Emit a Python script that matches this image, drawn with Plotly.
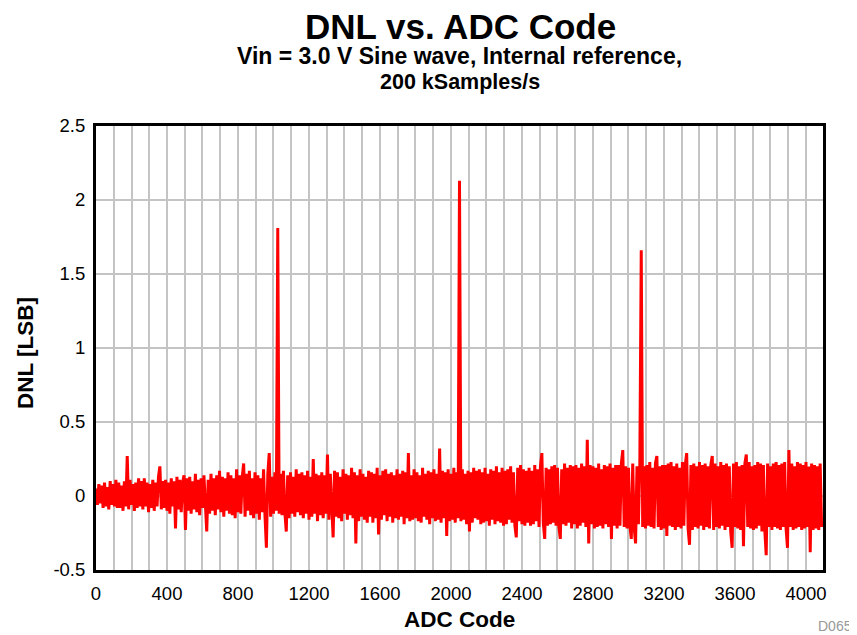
import plotly.graph_objects as go

# ADC codes sampled every 8 codes
adc_code = list(range(0, 4096, 8))

# DNL values [LSB] (rows of 16 points = 128 codes each)
dnl_row_00 = [0.05,-0.06,0.08,-0.05,0.07,-0.08,0.09,-0.07,0.06,-0.09,0.10,-0.06,0.08,-0.07,0.11,-0.08]
dnl_row_01 = [0.09,-0.08,0.07,-0.10,0.10,-0.07,0.27,-0.09,0.11,-0.06,0.08,-0.10,0.09,-0.08,0.12,-0.07]
dnl_row_02 = [0.10,-0.09,0.12,-0.07,0.09,-0.11,0.08,-0.08,0.11,-0.10,0.09,-0.07,0.13,0.20,-0.09,0.10]
dnl_row_03 = [-0.08,0.11,-0.10,0.09,-0.12,0.12,-0.07,0.10,-0.22,0.13,-0.09,0.11,-0.11,0.09,0.14,-0.23]
dnl_row_04 = [0.12,-0.10,0.13,-0.12,0.10,-0.09,0.15,-0.11,0.11,-0.13,0.12,-0.08,0.14,-0.10,-0.24,0.11]
dnl_row_05 = [-0.12,0.15,-0.10,0.12,-0.13,0.14,-0.09,0.17,-0.11,0.13,-0.14,0.12,-0.10,0.16,-0.12,0.14]
dnl_row_06 = [-0.13,0.12,-0.15,0.18,-0.11,0.14,-0.12,0.13,0.22,-0.14,0.15,-0.10,0.17,-0.13,0.12,-0.15]
dnl_row_07 = [0.16,-0.12,0.14,-0.16,0.12,-0.11,0.18,-0.13,-0.35,0.15,0.29,-0.14,0.13,-0.12,0.16,-0.10]
dnl_row_08 = [1.81,-0.12,0.15,-0.13,0.17,-0.11,-0.24,0.14,-0.15,0.16,-0.12,0.13,-0.14,0.18,-0.11,0.15]
dnl_row_09 = [-0.13,0.16,-0.15,0.14,-0.12,0.17,-0.16,0.13,-0.14,0.25,-0.12,0.15,-0.17,0.14,-0.13,0.16]
dnl_row_10 = [-0.15,0.14,-0.12,0.28,-0.16,0.15,-0.13,-0.28,0.17,-0.14,0.16,-0.15,0.13,-0.17,0.18,-0.12]
dnl_row_11 = [0.15,-0.16,0.14,-0.13,0.19,-0.15,0.16,-0.32,0.14,-0.17,0.18,-0.14,0.15,-0.16,0.13,-0.18]
dnl_row_12 = [0.17,-0.14,0.16,-0.18,0.15,-0.15,0.19,-0.26,0.14,-0.16,0.17,-0.13,0.18,-0.17,0.15,-0.14]
dnl_row_13 = [0.16,-0.18,0.14,-0.15,0.18,-0.16,0.15,-0.14,0.17,-0.19,0.16,-0.15,0.29,-0.17,0.14,-0.16]
dnl_row_14 = [0.18,-0.15,0.16,-0.17,0.14,-0.18,0.19,-0.14,0.15,-0.16,0.17,-0.19,0.16,-0.15,0.18,-0.17]
dnl_row_15 = [0.15,-0.16,0.32,-0.18,0.17,-0.15,0.16,-0.27,0.18,-0.17,0.15,-0.16,0.19,-0.18,0.16,-0.15]
dnl_row_16 = [2.13,-0.17,0.18,-0.16,0.15,-0.19,0.17,-0.24,0.16,-0.18,0.19,-0.15,0.17,-0.16,0.18,-0.19]
dnl_row_17 = [0.16,-0.18,0.19,-0.17,0.15,-0.20,0.18,-0.16,0.17,-0.19,0.20,-0.17,0.16,-0.18,0.19,-0.20]
dnl_row_18 = [0.17,-0.19,0.18,-0.16,0.20,-0.18,0.16,-0.20,-0.28,0.19,-0.17,0.21,-0.19,0.18,-0.20,0.17]
dnl_row_19 = [-0.18,0.19,-0.20,0.17,-0.19,0.21,-0.17,0.18,-0.21,0.20,0.29,-0.18,-0.29,0.19,-0.20,0.18]
dnl_row_20 = [-0.19,0.20,-0.18,0.21,-0.20,0.19,-0.21,-0.29,0.18,-0.19,0.22,-0.20,0.19,-0.18,0.21,-0.22]
dnl_row_21 = [0.20,-0.19,0.21,-0.22,0.19,-0.20,0.22,-0.18,0.20,-0.21,0.38,-0.32,0.21,-0.19,0.20,-0.22]
dnl_row_22 = [0.19,-0.21,0.22,-0.20,0.18,-0.22,0.21,-0.19,0.20,-0.21,0.22,-0.29,0.19,-0.20,0.21,-0.22]
dnl_row_23 = [0.21,-0.20,0.22,0.31,-0.21,0.20,-0.22,0.19,-0.20,-0.29,0.22,-0.21,-0.32,0.20,-0.19,0.22]
dnl_row_24 = [1.66,-0.21,0.20,-0.22,0.21,-0.20,0.23,-0.21,0.19,-0.22,0.22,0.27,-0.21,0.20,-0.23,0.21]
dnl_row_25 = [-0.22,0.21,-0.27,0.22,-0.20,0.23,-0.21,0.20,-0.23,0.22,-0.21,0.19,-0.22,0.23,-0.20,0.21]
dnl_row_26 = [0.29,-0.22,-0.33,0.21,-0.23,0.22,-0.21,0.20,-0.22,0.23,-0.20,0.21,-0.23,0.22,-0.21,0.20]
dnl_row_27 = [-0.22,0.21,0.27,-0.23,0.22,-0.21,0.20,-0.22,0.23,-0.20,0.21,-0.23,0.22,-0.21,0.20,-0.24]
dnl_row_28 = [-0.35,0.22,-0.21,0.23,-0.22,0.20,-0.23,0.21,-0.34,0.22,0.28,-0.21,0.23,-0.22,0.20,-0.23]
dnl_row_29 = [0.21,-0.22,0.23,-0.20,0.22,-0.24,0.21,-0.23,-0.40,0.22,-0.21,0.20,-0.23,0.22,-0.21,0.23]
dnl_row_30 = [-0.22,0.21,-0.23,0.22,-0.21,0.23,-0.22,-0.35,0.31,-0.21,0.22,-0.23,0.20,-0.22,0.23,-0.21]
dnl_row_31 = [0.22,-0.23,0.21,-0.22,0.23,-0.21,0.20,-0.38,0.22,-0.23,0.21,-0.22,0.20,-0.23,0.22,-0.21]

dnl_lsb = (dnl_row_00 + dnl_row_01 + dnl_row_02 + dnl_row_03 + dnl_row_04 + dnl_row_05 +
           dnl_row_06 + dnl_row_07 + dnl_row_08 + dnl_row_09 + dnl_row_10 + dnl_row_11 +
           dnl_row_12 + dnl_row_13 + dnl_row_14 + dnl_row_15 + dnl_row_16 + dnl_row_17 +
           dnl_row_18 + dnl_row_19 + dnl_row_20 + dnl_row_21 + dnl_row_22 + dnl_row_23 +
           dnl_row_24 + dnl_row_25 + dnl_row_26 + dnl_row_27 + dnl_row_28 + dnl_row_29 +
           dnl_row_30 + dnl_row_31)

x_ticks = [0, 400, 800, 1200, 1600, 2000, 2400, 2800, 3200, 3600, 4000]
x_tick_labels = ["0", "400", "800", "1200", "1600", "2000", "2400", "2800", "3200", "3600", "4000"]
y_ticks = [-0.5, 0, 0.5, 1, 1.5, 2, 2.5]
y_tick_labels = ["-0.5", "0", "0.5", "1", "1.5", "2", "2.5"]

# page is offset by the default 8px body margin
OFF = 8
PAGE_W, PAGE_H = 857, 635
# plot area in page pixels
PL, PR, PT, PB = 96, 823, 126, 570
W, H = PAGE_W - OFF, PAGE_H - OFF
pw, ph = PR - PL, PB - PT

def px(xp):
    return (xp - PL) / pw

def py(yp):
    return (PB - yp) / ph

FONT = "Liberation Sans, Arial, sans-serif"

fig = go.Figure()
fig.add_trace(go.Scatter(x=adc_code, y=dnl_lsb, mode="lines",
                         line=dict(color="#ff0000", width=3), showlegend=False,
                         hoverinfo="skip"))

fig.update_layout(
    width=W, height=H,
    margin=dict(l=PL - OFF, r=PAGE_W - PR, t=PT - OFF, b=PAGE_H - PB),
    paper_bgcolor="white", plot_bgcolor="white",
    font=dict(family=FONT, color="black"),
    xaxis=dict(range=[0, 4096], tickvals=x_ticks, ticktext=x_tick_labels, showgrid=True,
               gridcolor="#c4c4c4", gridwidth=2,
               minor=dict(dtick=100, tick0=0, showgrid=True, gridcolor="#c4c4c4", gridwidth=2),
               showline=True, mirror=True, linecolor="black", linewidth=3,
               ticks="outside", ticklen=5, tickcolor="rgba(0,0,0,0)",
               tickfont=dict(size=18.5, family=FONT), zeroline=False),
    yaxis=dict(range=[-0.5, 2.5], tickvals=y_ticks, ticktext=y_tick_labels, showgrid=True,
               gridcolor="#c4c4c4", gridwidth=2,
               showline=True, mirror=True, linecolor="black", linewidth=3,
               ticks="outside", ticklen=4, tickcolor="rgba(0,0,0,0)",
               tickfont=dict(size=18.5, family=FONT), zeroline=False),
)

ann = [
    dict(text="<b>DNL vs. ADC Code</b>", x=px(460), y=py(27), size=35, color="black"),
    dict(text="<b>Vin = 3.0 V Sine wave, Internal reference,</b>", x=px(459), y=py(56), size=23, color="black"),
    dict(text="<b>200 kSamples/s</b>", x=px(460), y=py(82), size=21.5, color="black"),
    dict(text="<b>ADC Code</b>", x=px(459), y=py(619), size=22.5, color="black"),
    dict(text="D065", x=px(835), y=py(626), size=14, color="#999999"),
]
for a in ann:
    fig.add_annotation(text=a["text"], x=a["x"], y=a["y"], xref="paper", yref="paper",
                       xanchor="center", yanchor="middle", showarrow=False,
                       font=dict(size=a["size"], color=a["color"], family=FONT))

fig.add_annotation(text="<b>DNL [LSB]</b>", x=px(25), y=py(353), xref="paper", yref="paper",
                   xanchor="center", yanchor="middle", showarrow=False, textangle=-90,
                   font=dict(size=22.5, color="black", family=FONT))

fig.write_html("out.html")
